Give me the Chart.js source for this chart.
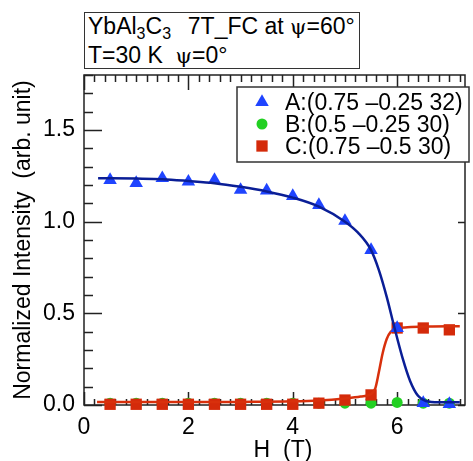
<!DOCTYPE html>
<html>
<head>
<meta charset="utf-8">
<script src="https://cdn.jsdelivr.net/npm/chart.js@4/dist/chart.umd.min.js"></script>
<style>
  body { margin: 0; background: #fff; }
  #wrap { position: relative; width: 473px; height: 461px; }
  #title {
    position: absolute; left: 84px; top: 12px; height: 57px;
    box-sizing: border-box; border: 1.5px solid #333; background: #fff;
    font: 23px "Liberation Sans", Arial, sans-serif; line-height: 26px;
    padding: 0 4px 0 3px; white-space: pre; color: #000;
  }
  #title .s { font-size: 16px; position: relative; top: 5px; }
  #title .gap { margin-left: 4px; }
  #title .g { font-family: "DejaVu Serif", "Liberation Serif", serif; font-size: 21px; }
</style>
</head>
<body>
<div id="wrap">
  <canvas id="chart" width="473" height="461"></canvas>
  <div id="title">YbAl<span class="s">3</span>C<span class="s">3</span>  <span class="gap">7T_FC at </span><span class="g">ψ</span>=60°
T=30 K  <span class="g">ψ</span>=0°</div>
</div>
<script>
// Field values (T) where data were measured
const fieldH = [0.5, 1, 1.5, 2, 2.5, 3, 3.5, 4, 4.5, 5, 5.5, 6, 6.5, 7];

// Normalized intensities
const intensityA = [1.227, 1.21, 1.237, 1.218, 1.227, 1.173, 1.17, 1.14, 1.09, 1.004, 0.845, 0.42, 0.01, 0.005];
const intensityB = [0.01, 0.01, 0.01, 0.01, 0.01, 0.01, 0.01, 0.01, 0.01, 0.01, 0.01, 0.014, 0.01, 0.01];
const intensityC = [0.004, 0.004, 0.004, 0.004, 0.004, 0.004, 0.004, 0.004, 0.01, 0.027, 0.055, 0.42, 0.42, 0.41];

// Fit curves, sampled from the plot
const fitAH = [0.27, 1.0, 1.5, 2.0, 2.5, 3.0, 3.5, 4.0, 4.5, 5.0, 5.25, 5.5, 5.65, 5.8, 5.95, 6.1, 6.25, 6.4, 6.55, 6.8, 7.2];
const fitAI = [1.237, 1.235, 1.232, 1.222, 1.21, 1.19, 1.165, 1.131, 1.082, 1.0, 0.94, 0.845, 0.736, 0.59, 0.42, 0.26, 0.13, 0.05, 0.022, 0.015, 0.015];
const fitCH = [0.25, 1.0, 2.0, 3.0, 4.0, 4.5, 5.0, 5.3, 5.5, 5.58, 5.65, 5.72, 5.8, 5.88, 6.0, 6.2, 6.6, 7.2];
const fitCI = [0.016, 0.016, 0.016, 0.017, 0.02, 0.025, 0.036, 0.046, 0.06, 0.09, 0.18, 0.28, 0.36, 0.40, 0.418, 0.424, 0.428, 0.43];

const seriesLabels = ['A:(0.75 \u20130.25 32)', 'B:(0.5 \u20130.25 30)', 'C:(0.75 \u20130.5 30)'];
const xTicks = [0, 2, 4, 6];
const yTicks = [0, 0.5, 1.0, 1.5];
const xTitle = 'H  (T)';
const yTitle = 'Normalized Intensity  (arb. unit)';

const FONT = '"Liberation Sans", Arial, sans-serif';

function pts(xs, ys) {
    return xs.map((x, i) => ({ x: x, y: ys[i] }));
}

// frame with inward ticks on all sides, plus x title
const frameTicks = {
    id: 'frameTicks',
    beforeDatasetsDraw(chart) {
        const ctx = chart.ctx;
        const { left, right, top, bottom } = chart.chartArea;
        const xs = chart.scales.x, ys = chart.scales.y;
        ctx.save();
        ctx.strokeStyle = '#222';
        ctx.lineWidth = 1.5;
        ctx.strokeRect(left, top, right - left, bottom - top);
        ctx.beginPath();
        for (let i = 0; i * 0.2 <= xs.max + 1e-9; i++) {
            const px = Math.round(xs.getPixelForValue(i * 0.2)) + 0.5;
            const major = i % 10 === 0;
            ctx.moveTo(px, bottom); ctx.lineTo(px, bottom - (major ? 13 : 6));
            ctx.moveTo(px, top); ctx.lineTo(px, top + (major ? 15 : 7));
        }
        for (let i = 0; i * 0.1 <= ys.max + 1e-9; i++) {
            const py = Math.round(ys.getPixelForValue(i * 0.1)) + 0.5;
            const major = i % 5 === 0;
            ctx.moveTo(left, py); ctx.lineTo(left + (major ? 18 : 9), py);
            if (major) { ctx.moveTo(right, py); ctx.lineTo(right - 7, py); }
        }
        ctx.stroke();
        ctx.fillStyle = '#000';
        ctx.font = '23px ' + FONT;
        ctx.textAlign = 'center';
        ctx.textBaseline = 'alphabetic';
        ctx.fillText(xTitle, 283, 457);
        ctx.restore();
    }
};

// boxed legend inside the plot
const boxLegend = {
    id: 'boxLegend',
    afterDraw(chart) {
        const ctx = chart.ctx;
        ctx.save();
        ctx.fillStyle = '#fff';
        ctx.fillRect(237, 87, 232, 75);
        ctx.strokeStyle = '#333';
        ctx.lineWidth = 1.5;
        ctx.strokeRect(237, 87, 232, 75);
        const marks = chart.data.datasets.filter(d => d.isMarker);
        marks.forEach((d, i) => {
            const cy = 102 + i * 22;
            ctx.fillStyle = d.backgroundColor;
            ctx.strokeStyle = d.backgroundColor;
            Chart.helpers.drawPoint(ctx, { pointStyle: d.pointStyle, radius: d.pointRadius, rotation: 0, borderWidth: 0 }, 262, cy);
            ctx.fillStyle = '#000';
            ctx.font = '23px ' + FONT;
            ctx.textBaseline = 'alphabetic';
            ctx.fillText(d.label, 285, cy + 8);
        });
        ctx.restore();
    }
};

new Chart(document.getElementById('chart'), {
    type: 'scatter',
    data: {
        datasets: [
            { label: 'fitA', data: pts(fitAH, fitAI), showLine: true, pointRadius: 0, borderColor: '#0a1e96', borderWidth: 2.5, cubicInterpolationMode: 'monotone', order: 0, clip: false },
            { label: seriesLabels[0], isMarker: true, data: pts(fieldH, intensityA), pointStyle: 'triangle', pointRadius: 7.8, backgroundColor: '#1f44ff', borderWidth: 0, pointBorderWidth: 0, order: 1, clip: false },
            { label: seriesLabels[1], isMarker: true, data: pts(fieldH, intensityB), pointStyle: 'circle', pointRadius: 5.5, backgroundColor: '#22d022', borderWidth: 0, pointBorderWidth: 0, order: 4, clip: false },
            { label: seriesLabels[2], isMarker: true, data: pts(fieldH, intensityC), pointStyle: 'rect', pointRadius: 8, backgroundColor: '#d42a0a', borderWidth: 0, pointBorderWidth: 0, order: 3, clip: false },
            { label: 'fitC', data: pts(fitCH, fitCI), showLine: true, pointRadius: 0, borderColor: '#d8300c', borderWidth: 2.5, cubicInterpolationMode: 'monotone', order: 2, clip: false }
        ]
    },
    options: {
        responsive: false,
        animation: false,
        layout: { padding: { top: 75, right: 2, left: 0, bottom: 0 } },
        plugins: { legend: { display: false }, tooltip: { enabled: false } },
        scales: {
            x: {
                type: 'linear', min: 0, max: 7.3,
                grid: { display: false, drawTicks: false },
                border: { display: false },
                afterBuildTicks: s => { s.ticks = xTicks.map(v => ({ value: v })); },
                afterFit: s => { s.height = 56; },
                ticks: { color: '#000', padding: 9, maxRotation: 0, font: { size: 23, family: FONT }, callback: v => String(v) }
            },
            y: {
                type: 'linear', min: 0, max: 1.8,
                grid: { display: false, drawTicks: false },
                border: { display: false },
                afterBuildTicks: s => { s.ticks = yTicks.map(v => ({ value: v })); },
                afterFit: s => { s.width = 84; },
                ticks: { color: '#000', padding: 9, font: { size: 23, family: FONT }, callback: v => v.toFixed(1) },
                title: { display: true, text: yTitle, color: '#000', padding: { top: 10, bottom: 0 }, font: { size: 23, family: FONT } }
            }
        }
    },
    plugins: [frameTicks, boxLegend]
});
</script>
</body>
</html>
